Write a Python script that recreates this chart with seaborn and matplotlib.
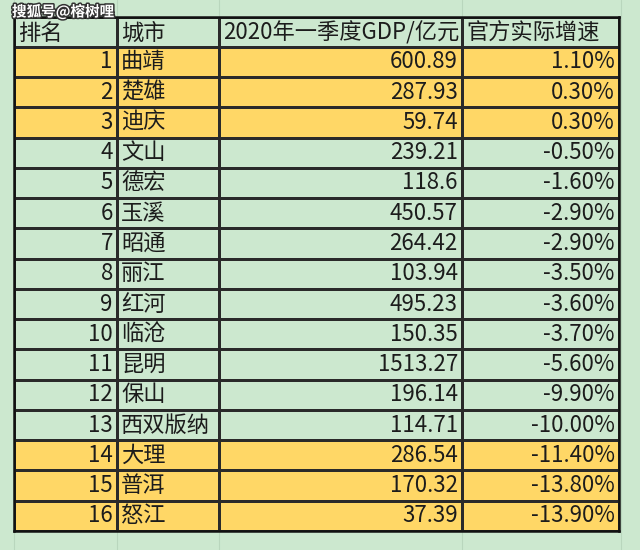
import numpy as np
import matplotlib
matplotlib.use('Agg')
import matplotlib.pyplot as plt
import matplotlib.patheffects as pe
from matplotlib.colors import ListedColormap
import seaborn as sns

# table data
headers = ['排名', '城市', '2020年一季度GDP/亿元', '官方实际增速']
ranks = [1, 2, 3, 4, 5, 6, 7, 8, 9, 10, 11, 12, 13, 14, 15, 16]
cities = ['曲靖', '楚雄', '迪庆', '文山', '德宏', '玉溪', '昭通', '丽江',
          '红河', '临沧', '昆明', '保山', '西双版纳', '大理', '普洱', '怒江']
gdp = [600.89, 287.93, 59.74, 239.21, 118.6, 450.57, 264.42, 103.94,
       495.23, 150.35, 1513.27, 196.14, 114.71, 286.54, 170.32, 37.39]
growth = [1.10, 0.30, 0.30, -0.50, -1.60, -2.90, -2.90, -3.50,
          -3.60, -3.70, -5.60, -9.90, -10.00, -11.40, -13.80, -13.90]
highlight = [1, 1, 1, 0, 0, 0, 0, 0, 0, 0, 0, 0, 0, 1, 1, 1]

sns.set_style('white')
plt.rcParams['font.family'] = ['Noto Sans CJK SC', 'DejaVu Sans']

green = '#CCE8CF'
orange = '#FFD766'
line_c = '#2a2a2a'
text_c = '#1c1c1c'

W, H = 640, 550
fig = plt.figure(figsize=(6.4, 5.5), dpi=100, facecolor=green)

# faint spreadsheet grid in the background
bg = fig.add_axes([0, 0, 1, 1])
bg.set_xlim(0, W)
bg.set_ylim(H, 0)
bg.set_facecolor(green)
for gx in [14, 117, 219, 462, 621]:
    bg.axvline(gx, color='#b9d6bd', lw=0.8)
bg.axis('off')

col_edges = [14, 117, 219, 462, 619]
top, bottom = 16.5, 531

# cell contents for each column
cells = [
    [str(r) for r in ranks],
    cities,
    [str(v) for v in gdp],
    [f'{v:.2f}%' for v in growth],
]
aligns = ['right', 'left', 'right', 'right']

flags = np.array([0] + highlight).reshape(-1, 1)
cmap = ListedColormap([green, orange])

for j in range(4):
    x0, x1 = col_edges[j], col_edges[j + 1]
    ax = fig.add_axes([x0 / W, (H - bottom) / H, (x1 - x0) / W, (bottom - top) / H])
    sns.heatmap(flags, ax=ax, cmap=cmap, vmin=0, vmax=1, cbar=False,
                linewidths=1.0, linecolor=line_c, xticklabels=False, yticklabels=False)
    ax.set_xticks([])
    ax.set_yticks([])
    # header
    ax.annotate(headers[j], xy=(0, 0.55), xytext=(3, 0), textcoords='offset points',
                ha='left', va='center', fontsize=16, color=text_c)
    for i, s in enumerate(cells[j]):
        if aligns[j] == 'right':
            ax.annotate(s, xy=(1, i + 1.5), xytext=(-3, 0), textcoords='offset points',
                        ha='right', va='center', fontsize=16, color=text_c)
        else:
            ax.annotate(s, xy=(0, i + 1.5), xytext=(3, 0), textcoords='offset points',
                        ha='left', va='center', fontsize=16, color=text_c)

# thick outer border
frame = fig.add_axes([col_edges[0] / W, (H - bottom) / H,
                      (col_edges[-1] - col_edges[0]) / W, (bottom - top) / H])
frame.patch.set_alpha(0)
frame.set_xticks([])
frame.set_yticks([])
for sp in frame.spines.values():
    sp.set_visible(True)
    sp.set_linewidth(1.8)
    sp.set_color('#111111')

# watermark
fig.text(12 / W, 1 - 12 / H, '搜狐号@榕树哩', fontsize=10.5, fontweight='bold',
         color='white', ha='left', va='center',
         path_effects=[pe.withStroke(linewidth=2.2, foreground='#333333')])

fig.savefig('out.png', dpi=100, facecolor=green)
